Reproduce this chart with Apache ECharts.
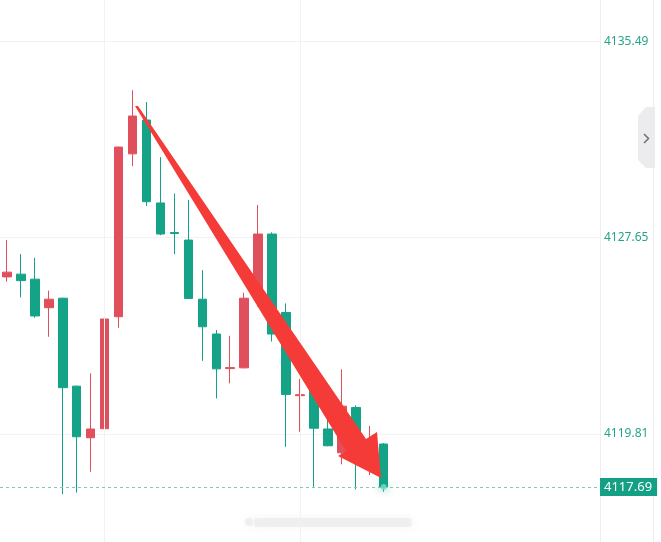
<!DOCTYPE html>
<html>
<head>
<meta charset="utf-8">
<script src="https://cdn.jsdelivr.net/npm/echarts@6/dist/echarts.min.js"></script>
<style>
  html, body { margin: 0; padding: 0; background: #ffffff; }
  #chart { width: 661px; height: 542px; }
</style>
</head>
<body>
<div id="chart"></div>
<script>
// ---- data ----
const categories = ['10:02','10:03','10:04','10:05','10:06','10:07','10:08','10:09','10:10','10:11',
                    '10:12','10:13','10:14','10:15','10:16','10:17','10:18','10:19','10:20','10:21',
                    '10:22','10:23','10:24','10:25','10:26','10:27','10:28','10:29'];
const openVals  = [4126.08,4126.19,4125.99,4124.85,4125.23,4121.72,4119.66,4120.02,4124.49,4130.99,
                   4132.34,4129.03,4127.85,4127.55,4125.19,4123.80,4122.42,4122.45,4125.23,4127.79,
                   4124.66,4121.34,4121.56,4120.01,4119.06,4120.87,4118.90,4119.41];
const closeVals = [4126.27,4125.93,4124.52,4125.19,4121.66,4119.70,4120.01,4124.40,4131.26,4132.50,
                   4129.08,4127.79,4127.81,4125.22,4124.09,4122.41,4122.46,4125.23,4127.79,4123.80,
                   4121.39,4121.38,4120.04,4119.34,4120.92,4119.25,4119.50,4117.69];
const lowVals   = [4125.89,4125.26,4124.45,4123.69,4117.41,4117.47,4118.30,4118.30,4124.05,4130.50,
                   4128.91,4127.74,4126.99,4125.20,4122.73,4121.23,4121.83,4122.43,4124.90,4123.50,
                   4119.30,4119.90,4117.70,4119.32,4118.60,4117.60,4118.17,4117.51];
const highVals  = [4127.55,4126.99,4126.84,4125.53,4125.25,4121.74,4122.23,4124.52,4131.28,4133.53,
                   4133.06,4130.86,4129.41,4129.15,4126.35,4123.96,4123.73,4125.45,4128.95,4127.86,
                   4125.02,4122.00,4121.70,4120.65,4122.39,4120.95,4120.13,4119.45];
const tickValues = [4119.81, 4127.65, 4135.49];
const lastPrice = 4117.69;
const gridLineCats = ['10:09', '10:23'];
const emptySlots = 15;

// ---- build ----
const xCats = categories.slice();
for (let i = 0; i < emptySlots; i++) xCats.push('e' + i);
const candleData = categories.map((c, i) => [openVals[i], closeVals[i], lowVals[i], highVals[i]]);

const UP = '#e0505c', DOWN = '#14a387', LABEL = '#26a48b';

const chart = echarts.init(document.getElementById('chart'), null, { renderer: 'canvas' });
chart.setOption({
  animation: false,
  backgroundColor: '#ffffff',
  grid: { left: 0, right: 61, top: 0, bottom: 0 },
  xAxis: {
    type: 'category', data: xCats, boundaryGap: true,
    axisLine: { show: false }, axisTick: { show: false }, axisLabel: { show: false },
    splitLine: { show: false }
  },
  yAxis: {
    type: 'value', position: 'right', min: 4115.50, max: 4137.13, scale: true,
    axisLine: { show: true, lineStyle: { color: '#eeeeee' } },
    axisTick: { show: false, customValues: tickValues },
    axisLabel: { customValues: tickValues, formatter: v => v.toFixed(2), color: LABEL,
                 fontSize: 12, margin: 4, fontFamily: 'Noto Sans' },
    splitLine: { show: true, lineStyle: { color: '#f2f2f2', width: 1 } }
  },
  series: [
    {
      type: 'line', data: [], z: 1, silent: true,
      markLine: {
        silent: true, symbol: 'none', animation: false,
        label: { show: false },
        lineStyle: { color: '#f2f2f2', width: 1, type: 'solid' },
        data: gridLineCats.map(c => ({ xAxis: c })).concat([
          { yAxis: lastPrice,
            lineStyle: { color: '#7dc9ba', type: [3, 3], width: 1 },
            label: { show: true, position: 'end', distance: 0, formatter: lastPrice.toFixed(2),
                     color: '#ffffff', backgroundColor: '#14a085', padding: [3, 5, 2, 4],
                     fontSize: 13, fontFamily: 'Noto Sans' } }
        ])
      }
    },
    {
      type: 'candlestick', z: 2, data: candleData, barWidth: 9,
      itemStyle: { color: UP, color0: DOWN, borderColor: UP, borderColor0: DOWN, borderWidth: 1 },
      markPoint: {
        silent: true, symbol: 'circle', symbolSize: 6, label: { show: false },
        itemStyle: { color: 'rgba(120,220,195,0.8)', shadowBlur: 8, shadowColor: '#14a387' },
        data: [{ coord: [categories[categories.length - 1], lastPrice] }]
      }
    }
  ],
  graphic: [
    { type: 'line', shape: { x1: 653.5, y1: 0, x2: 653.5, y2: 542 }, style: { stroke: '#eeeeee', lineWidth: 1 }, silent: true },
    { type: 'polygon', shape: { points: [[655,107],[646,107],[638,116],[638,160],[646,168],[655,168]] },
      style: { fill: '#ececef' }, silent: true },
    { type: 'polyline', shape: { points: [[644,134],[648.5,138.5],[644,143]] },
      style: { stroke: '#707070', lineWidth: 1.5, fill: null }, silent: true },
    { type: 'polygon', z: 100,
      shape: { points: [[135,106],[138,106],[366,439],[377,432],[381,478],[338,456],[346,451]] },
      style: { fill: '#f53b38' }, silent: true },
    { type: 'rect', shape: { x: 254, y: 518, width: 158, height: 9, r: 3 },
      style: { fill: 'rgba(215,215,215,0.3)', shadowBlur: 10, shadowColor: 'rgba(200,200,200,0.6)' }, silent: true },
    { type: 'circle', shape: { cx: 249, cy: 522, r: 4 },
      style: { fill: 'rgba(220,220,220,0.35)', shadowBlur: 6, shadowColor: 'rgba(200,200,200,0.5)' }, silent: true }
  ]
});
</script>
</body>
</html>
